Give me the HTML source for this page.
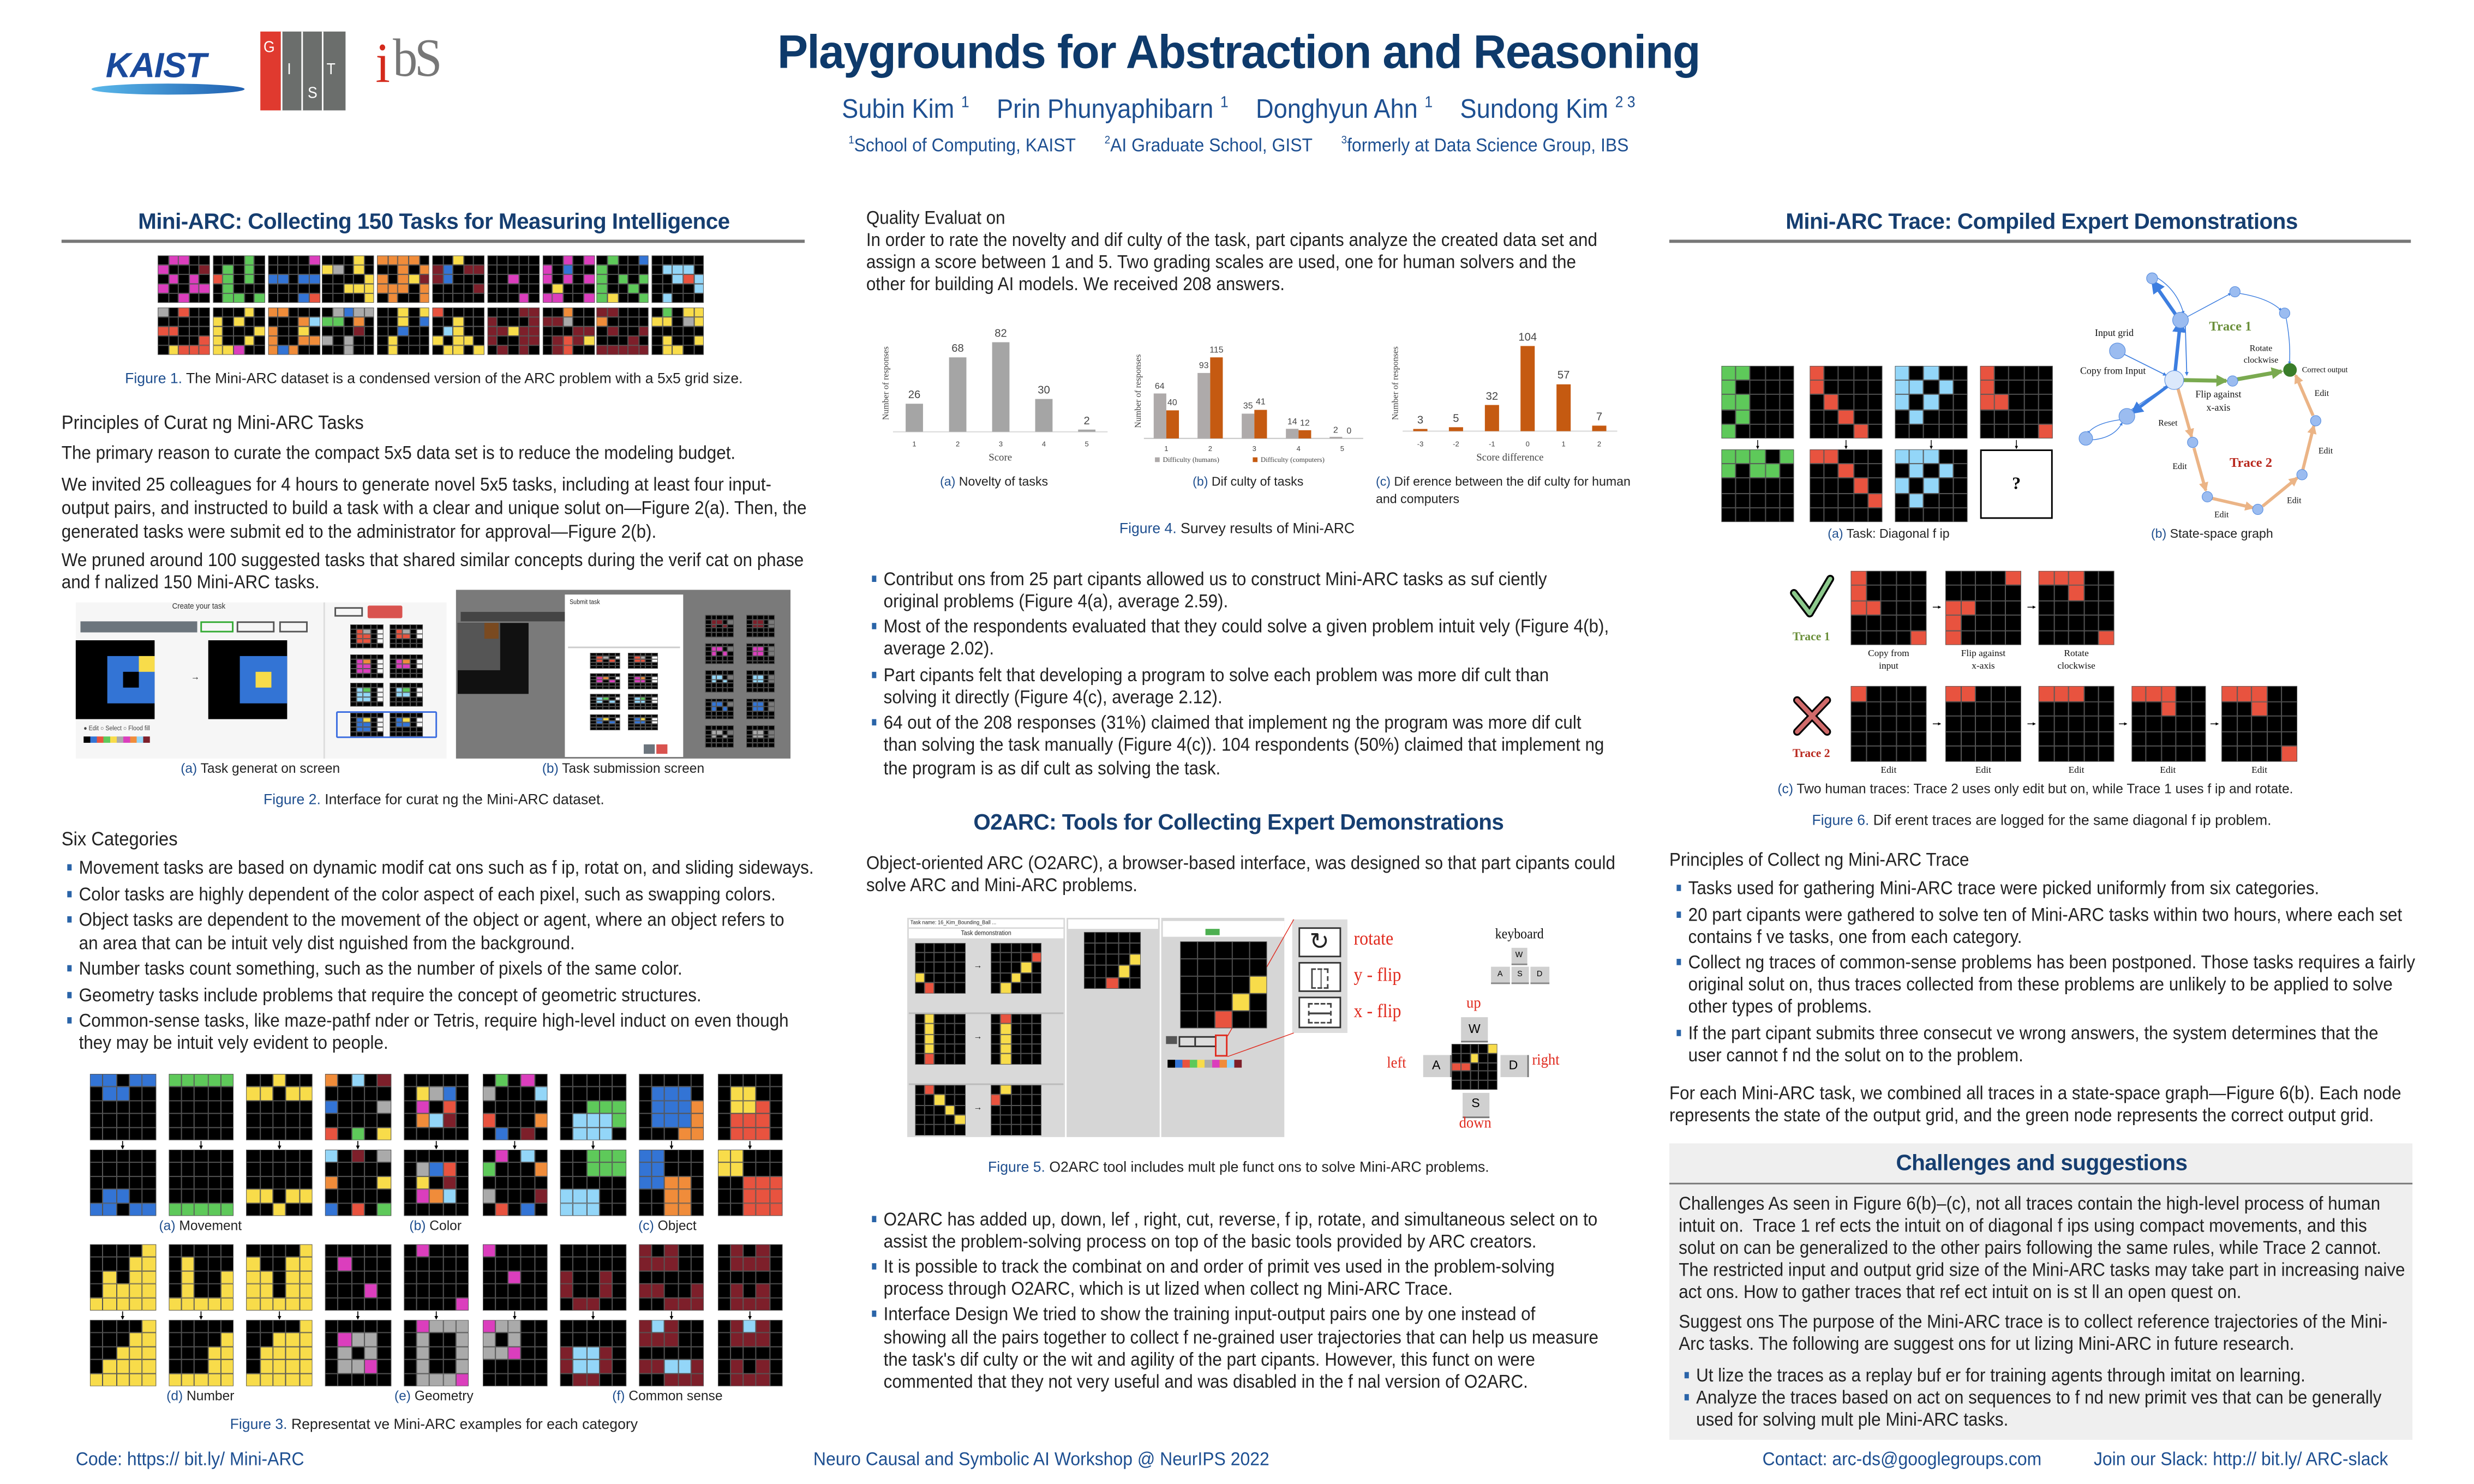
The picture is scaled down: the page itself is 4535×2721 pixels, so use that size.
<!DOCTYPE html>
<html><head><meta charset="utf-8">
<style>
html,body{margin:0;padding:0;width:4535px;height:2721px;overflow:hidden;background:#fff}
#p{position:absolute;left:0;top:0;width:1568px;height:941px;transform:scale(2.8922,2.8916);transform-origin:0 0;font-family:"Liberation Sans",sans-serif}
.t{position:absolute;white-space:nowrap;font-size:11.8px;line-height:14px;color:#222;transform:scaleX(.92);transform-origin:0 0}
.c{transform-origin:50% 0;transform:translateX(-50%) scaleX(.92)}
.h{position:absolute;white-space:nowrap;font-size:14px;font-weight:bold;color:#163e70;line-height:16px;letter-spacing:-0.2px}
.h.c{transform:translateX(-50%)}
.cap{position:absolute;white-space:nowrap;font-size:9.2px;line-height:11px;color:#222}
.cap.c{transform:translateX(-50%)}
.cap b,.fb{color:#1f4f8f;font-weight:normal}
.b::before{content:"";position:absolute;left:-8px;top:5px;width:3px;height:4px;background:#2a64a8}
.line{position:absolute;height:1.6px;background:#777}
.g{position:absolute;display:grid;grid-template-columns:repeat(5,1fr);grid-template-rows:repeat(5,1fr)}
.g i{box-shadow:inset 0 0 0 0.35px #555}
.box{position:absolute}
</style></head><body><div id="p">

<!-- logos -->
<div style="position:absolute;left:67px;top:29px;font:bold italic 22px 'Liberation Sans',sans-serif;color:#1a4a9c;letter-spacing:-0.5px">KAIST</div>
<div style="position:absolute;left:58px;top:53px;width:97px;height:7px;border-radius:50%;background:linear-gradient(90deg,#5ab8ea,#1f5fb0)"></div>
<div class="box" style="left:165px;top:20px;width:13px;height:50px;background:#e03a2f"></div>
<div class="box" style="left:178px;top:20px;width:13px;height:50px;background:#6b6e6c;border-left:0.5px solid #fff"></div>
<div class="box" style="left:191px;top:20px;width:13px;height:50px;background:#6b6e6c;border-left:0.5px solid #fff"></div>
<div class="box" style="left:204px;top:20px;width:14px;height:50px;background:#6b6e6c;border-left:0.5px solid #fff"></div>
<div class="t" style="left:167px;top:24px;color:#fff;font-size:10px">G</div>
<div class="t" style="left:182px;top:38px;color:#fff;font-size:10px">I</div>
<div class="t" style="left:195px;top:53px;color:#fff;font-size:10px">S</div>
<div class="t" style="left:207px;top:38px;color:#fff;font-size:10px">T</div>
<div class="t" style="left:238px;top:20px;font:36px 'Liberation Serif',serif;color:#d42a1c;line-height:40px">i</div>
<div class="t" style="left:249px;top:18px;font:34px 'Liberation Serif',serif;color:#777;line-height:40px;letter-spacing:-2px">bS</div>

<!-- title -->
<div class="t c" style="left:785px;top:16px;font-size:30px;line-height:36px;font-weight:bold;color:#0e3a6b;letter-spacing:-0.6px;transform:translateX(-50%) scaleX(.97)">Playgrounds for Abstraction and Reasoning</div>
<div class="t c" style="left:785px;top:56px;font-size:17px;line-height:20px;color:#1d4f91">Subin Kim <sup style="font-size:10px">1</sup>&nbsp;&nbsp;&nbsp; Prin Phunyaphibarn <sup style="font-size:10px">1</sup>&nbsp;&nbsp;&nbsp; Donghyun Ahn <sup style="font-size:10px">1</sup>&nbsp;&nbsp;&nbsp; Sundong Kim <sup style="font-size:10px">2 3</sup></div>
<div class="t c" style="left:785px;top:83px;font-size:12px;color:#1d4f91"><sup style="font-size:7px">1</sup>School of Computing, KAIST &nbsp;&nbsp;&nbsp;&nbsp; <sup style="font-size:7px">2</sup>AI Graduate School, GIST &nbsp;&nbsp;&nbsp;&nbsp; <sup style="font-size:7px">3</sup>formerly at Data Science Group, IBS</div>

<!-- column 1 -->
<div class="h c" style="left:275px;top:132px">Mini-ARC: Collecting 150 Tasks for Measuring Intelligence</div>
<div class="line" style="left:39px;top:152px;width:471px"></div>
<div class="cap c" style="left:275px;top:235px"><b>Figure 1.</b> The Mini-ARC dataset is a condensed version of the ARC problem with a 5x5 grid size.</div>
<div class="t" style="left:39px;top:261px;font-size:12.3px">Principles of Curat ng Mini-ARC Tasks</div>
<div class="t" style="left:39px;top:280px">The primary reason to curate the compact 5x5 data set is to reduce the modeling budget.</div>
<div class="t" style="left:39px;top:300px">We invited 25 colleagues for 4 hours to generate novel 5x5 tasks, including at least four input-</div>
<div class="t" style="left:39px;top:315px">output pairs, and instructed to build a task with a clear and unique solut on—Figure 2(a). Then, the</div>
<div class="t" style="left:39px;top:330px">generated tasks were submit ed to the administrator for approval—Figure 2(b).</div>
<div class="t" style="left:39px;top:348px">We pruned around 100 suggested tasks that shared similar concepts during the verif cat on phase</div>
<div class="t" style="left:39px;top:362px">and f nalized 150 Mini-ARC tasks.</div>

<!-- figure 2 -->
<div class="box" style="left:48px;top:382px;width:235px;height:99px;background:#f6f6f6"></div>
<div class="box" style="left:205px;top:382px;width:0.5px;height:99px;background:#ddd"></div>
<div class="t c" style="left:126px;top:381px;font-size:5px;line-height:8px;color:#333">Create your task</div>
<div class="box" style="left:51px;top:394px;width:74px;height:7px;background:#6c757d"></div>
<div class="box" style="left:127px;top:394px;width:21px;height:7px;border:0.4px solid #3a3;box-sizing:border-box"></div>
<div class="box" style="left:150px;top:394px;width:24px;height:7px;border:0.4px solid #555;box-sizing:border-box"></div>
<div class="box" style="left:177px;top:394px;width:18px;height:7px;border:0.4px solid #555;box-sizing:border-box"></div>
<div class="box" style="left:48px;top:406px;width:50px;height:50px;background:#000"></div>
<div class="box" style="left:68px;top:416px;width:30px;height:30px;background:#3374d5"></div>
<div class="box" style="left:88px;top:416px;width:10px;height:10px;background:#f8dc4a"></div>
<div class="box" style="left:78px;top:426px;width:10px;height:10px;background:#000"></div>
<div class="t" style="left:121px;top:423px;font-size:6px">→</div>
<div class="box" style="left:132px;top:406px;width:50px;height:50px;background:#000"></div>
<div class="box" style="left:152px;top:416px;width:30px;height:30px;background:#3374d5"></div>
<div class="box" style="left:162px;top:426px;width:10px;height:10px;background:#f8dc4a"></div>
<div class="t" style="left:53px;top:459px;font-size:4px;line-height:6px;color:#444">● Edit ○ Select ○ Flood fill</div>
<div class="box" style="left:53px;top:467px;width:42px;height:4px;background:linear-gradient(90deg,#000 0 10%,#3374d5 10% 20%,#e8533f 20% 30%,#5ec95a 30% 40%,#f8dc4a 40% 50%,#aaa 50% 60%,#db3ebd 60% 70%,#f08c3a 70% 80%,#93d6f8 80% 90%,#7d1f2a 90%)"></div>
<div class="box" style="left:212px;top:385px;width:18px;height:6px;border:0.4px solid #555;box-sizing:border-box"></div>
<div class="box" style="left:233px;top:384px;width:22px;height:8px;background:#d9534f;border-radius:1px"></div>
<div class="box" style="left:213px;top:451px;width:64px;height:17px;border:0.8px solid #3b6de0;box-sizing:border-box;border-radius:1px"></div>
<div class="box" style="left:289px;top:374px;width:212px;height:107px;background:#7a7a7a"></div>
<div class="box" style="left:290px;top:395px;width:45px;height:45px;background:#111"></div>
<div class="box" style="left:290px;top:395px;width:27px;height:30px;background:#555"></div>
<div class="box" style="left:307px;top:395px;width:9px;height:10px;background:#7a4a20"></div>
<div class="box" style="left:292px;top:388px;width:66px;height:6px;background:#444"></div>
<div class="box" style="left:358px;top:377px;width:75px;height:103px;background:#fff"></div>
<div class="box" style="left:360px;top:410px;width:71px;height:0.5px;background:#ccc"></div>
<div class="t" style="left:361px;top:379px;font-size:4px;line-height:6px">Submit task</div>
<div class="box" style="left:416px;top:472px;width:7px;height:6px;background:#d9534f"></div>
<div class="box" style="left:408px;top:472px;width:7px;height:6px;background:#6c757d"></div>
<div class="cap c" style="left:165px;top:482px;font-size:8.5px"><b>(a)</b> Task generat on screen</div>
<div class="cap c" style="left:395px;top:482px;font-size:8.5px"><b>(b)</b> Task submission screen</div>
<div class="cap c" style="left:275px;top:502px"><b>Figure 2.</b> Interface for curat ng the Mini-ARC dataset.</div>

<div class="t" style="left:39px;top:525px;font-size:12.3px">Six Categories</div>
<div class="t b" style="left:50px;top:543px">Movement tasks are based on dynamic modif cat ons such as f ip, rotat on, and sliding sideways.</div>
<div class="t b" style="left:50px;top:560px">Color tasks are highly dependent of the color aspect of each pixel, such as swapping colors.</div>
<div class="t b" style="left:50px;top:576px">Object tasks are dependent to the movement of the object or agent, where an object refers to</div>
<div class="t" style="left:50px;top:591px">an area that can be intuit vely dist nguished from the background.</div>
<div class="t b" style="left:50px;top:607px">Number tasks count something, such as the number of pixels of the same color.</div>
<div class="t b" style="left:50px;top:624px">Geometry tasks include problems that require the concept of geometric structures.</div>
<div class="t b" style="left:50px;top:640px">Common-sense tasks, like maze-pathf nder or Tetris, require high-level induct on even though</div>
<div class="t" style="left:50px;top:654px">they may be intuit vely evident to people.</div>

<div class="cap c" style="left:127px;top:772px;font-size:8.5px"><b>(a)</b> Movement</div>
<div class="cap c" style="left:276px;top:772px;font-size:8.5px"><b>(b)</b> Color</div>
<div class="cap c" style="left:423px;top:772px;font-size:8.5px"><b>(c)</b> Object</div>
<div class="cap c" style="left:127px;top:880px;font-size:8.5px"><b>(d)</b> Number</div>
<div class="cap c" style="left:275px;top:880px;font-size:8.5px"><b>(e)</b> Geometry</div>
<div class="cap c" style="left:423px;top:880px;font-size:8.5px"><b>(f)</b> Common sense</div>
<div class="cap c" style="left:275px;top:898px"><b>Figure 3.</b> Representat ve Mini-ARC examples for each category</div>

<!-- column 2 -->
<div class="t" style="left:549px;top:131px">Quality Evaluat on</div>
<div class="t" style="left:549px;top:145px">In order to rate the novelty and dif culty of the task, part cipants analyze the created data set and</div>
<div class="t" style="left:549px;top:159px">assign a score between 1 and 5. Two grading scales are used, one for human solvers and the</div>
<div class="t" style="left:549px;top:173px">other for building AI models. We received 208 answers.</div>
<div class="cap c" style="left:630px;top:300px;font-size:8px"><b>(a)</b> Novelty of tasks</div>
<div class="cap c" style="left:791px;top:300px;font-size:8px"><b>(b)</b> Dif culty of tasks</div>
<div class="cap" style="left:872px;top:300px;font-size:8px"><b>(c)</b> Dif erence between the dif culty for human</div>
<div class="cap" style="left:872px;top:311px;font-size:8px">and computers</div>
<div class="cap c" style="left:784px;top:330px"><b>Figure 4.</b> Survey results of Mini-ARC</div>

<div class="t b" style="left:560px;top:360px">Contribut ons from 25 part cipants allowed us to construct Mini-ARC tasks as suf ciently</div>
<div class="t" style="left:560px;top:374px">original problems (Figure 4(a), average 2.59).</div>
<div class="t b" style="left:560px;top:390px">Most of the respondents evaluated that they could solve a given problem intuit vely (Figure 4(b),</div>
<div class="t" style="left:560px;top:404px">average 2.02).</div>
<div class="t b" style="left:560px;top:421px">Part cipants felt that developing a program to solve each problem was more dif cult than</div>
<div class="t" style="left:560px;top:435px">solving it directly (Figure 4(c), average 2.12).</div>
<div class="t b" style="left:560px;top:451px">64 out of the 208 responses (31%) claimed that implement ng the program was more dif cult</div>
<div class="t" style="left:560px;top:465px">than solving the task manually (Figure 4(c)). 104 respondents (50%) claimed that implement ng</div>
<div class="t" style="left:560px;top:480px">the program is as dif cult as solving the task.</div>

<div class="h c" style="left:785px;top:513px">O2ARC: Tools for Collecting Expert Demonstrations</div>
<div class="t" style="left:549px;top:540px">Object-oriented ARC (O2ARC), a browser-based interface, was designed so that part cipants could</div>
<div class="t" style="left:549px;top:554px">solve ARC and Mini-ARC problems.</div>

<!-- figure 5 panels -->
<div class="box" style="left:575px;top:582px;width:100px;height:139px;background:#d9d9d9"></div>
<div class="box" style="left:576px;top:583px;width:98px;height:5px;background:#fff"></div>
<div class="box" style="left:576px;top:589px;width:98px;height:6px;background:#fff"></div>
<div class="t c" style="left:625px;top:589px;font-size:4px;line-height:6px">Task demonstration</div>
<div class="t" style="left:577px;top:583px;font-size:3.5px;line-height:5px">Task name: 16_Kim_Bounding_Ball ...</div>
<div class="box" style="left:576px;top:642px;width:98px;height:0.5px;background:#bbb"></div>
<div class="box" style="left:576px;top:686.5px;width:98px;height:0.5px;background:#bbb"></div>
<div class="t" style="left:617px;top:606px;font-size:6px">→</div>
<div class="t" style="left:617px;top:651px;font-size:6px">→</div>
<div class="t" style="left:617px;top:696px;font-size:6px">→</div>
<div class="box" style="left:676px;top:582px;width:59px;height:139px;background:#d6d6d6"></div>
<div class="box" style="left:677px;top:583px;width:57px;height:6px;background:#fff"></div>
<div class="box" style="left:736px;top:582px;width:78px;height:139px;background:#d6d6d6"></div>
<div class="box" style="left:737px;top:584px;width:77px;height:10px;background:#fff"></div>
<div class="box" style="left:764px;top:589px;width:9px;height:3.5px;background:#4caf50"></div>
<div class="box" style="left:739px;top:657px;width:7px;height:5px;background:#555"></div>
<div class="box" style="left:747px;top:657px;width:9px;height:5px;background:#ddd;border:0.3px solid #333"></div>
<div class="box" style="left:757px;top:657px;width:12px;height:5px;background:#ddd;border:0.3px solid #333"></div>
<div class="box" style="left:770px;top:656.4px;width:8px;height:14px;border:0.7px solid #e02a1e;box-sizing:border-box"></div>
<div class="box" style="left:740px;top:672px;width:47px;height:5px;background:linear-gradient(90deg,#000 0 10%,#3374d5 10% 20%,#e8533f 20% 30%,#5ec95a 30% 40%,#f8dc4a 40% 50%,#aaa 50% 60%,#db3ebd 60% 70%,#f08c3a 70% 80%,#93d6f8 80% 90%,#7d1f2a 90%)"></div>
<div class="box" style="left:819.4px;top:583px;width:34.5px;height:72px;background:#ddd"></div>
<div class="box" style="left:823px;top:587.6px;width:26.5px;height:19.5px;background:#fff;border:1.2px solid #333;box-sizing:border-box;text-align:center;font:15px 'DejaVu Sans',sans-serif;line-height:17px;color:#222">↻</div>
<div class="box" style="left:823px;top:609.7px;width:26.5px;height:19.5px;background:#fff;border:1.2px solid #333;box-sizing:border-box"><div style="margin:3px 7px;height:11px;border:0.6px dashed #444;border-left:1.2px solid #444;box-shadow:inset 5px 0 0 #fff,inset 5.6px 0 0 #444"></div></div>
<div class="box" style="left:823px;top:632px;width:26.5px;height:19.5px;background:#fff;border:1.2px solid #333;box-sizing:border-box"><div style="margin:3px 5px;height:11px;border:0.6px dashed #444;box-shadow:inset 0 5px 0 #fff,inset 0 6.2px 0 #444"></div></div>
<div class="t" style="left:858px;top:588px;font:12px 'Liberation Serif',serif;color:#e02a1e">rotate</div>
<div class="t" style="left:858px;top:611px;font:12px 'Liberation Serif',serif;color:#e02a1e">y - flip</div>
<div class="t" style="left:858px;top:634px;font:12px 'Liberation Serif',serif;color:#e02a1e">x - flip</div>
<div class="t c" style="left:963px;top:587px;font:9px 'Liberation Serif',serif;color:#111">keyboard</div>
<div class="box" style="left:957.5px;top:601px;width:10.5px;height:10px;background:#d0d0d0;border-bottom:0.7px solid #888;font:5px sans-serif;text-align:center;line-height:10px">W</div>
<div class="box" style="left:945px;top:612.5px;width:11.5px;height:10px;background:#d0d0d0;border-bottom:0.7px solid #888;font:5px sans-serif;text-align:center;line-height:10px">A</div>
<div class="box" style="left:957.5px;top:612.5px;width:11.5px;height:10px;background:#d0d0d0;border-bottom:0.7px solid #888;font:5px sans-serif;text-align:center;line-height:10px">S</div>
<div class="box" style="left:970px;top:612.5px;width:11.5px;height:10px;background:#d0d0d0;border-bottom:0.7px solid #888;font:5px sans-serif;text-align:center;line-height:10px">D</div>
<div class="t c" style="left:934px;top:631px;font:10px 'Liberation Serif',serif;color:#e02a1e">up</div>
<div class="box" style="left:926.4px;top:645px;width:16.3px;height:15px;background:#d0d0d0;border-bottom:0.8px solid #777;font:8px sans-serif;text-align:center;line-height:15px">W</div>
<div class="box" style="left:902px;top:668.8px;width:16.6px;height:14.5px;background:#d0d0d0;border-right:0.5px solid #777;font:8px sans-serif;text-align:center;line-height:14.5px">A</div>
<div class="box" style="left:950.7px;top:668.8px;width:16.9px;height:14.5px;background:#d0d0d0;border-right:0.5px solid #777;font:8px sans-serif;text-align:center;line-height:14.5px">D</div>
<div class="box" style="left:927px;top:693px;width:16.5px;height:14.7px;background:#d0d0d0;border-bottom:0.8px solid #777;font:8px sans-serif;text-align:center;line-height:14.7px">S</div>
<div class="t" style="left:879px;top:669px;font:10px 'Liberation Serif',serif;color:#e02a1e">left</div>
<div class="t" style="left:971px;top:667px;font:10px 'Liberation Serif',serif;color:#e02a1e">right</div>
<div class="t c" style="left:935px;top:707px;font:10px 'Liberation Serif',serif;color:#e02a1e">down</div>
<div class="cap c" style="left:785px;top:735px"><b>Figure 5.</b> O2ARC tool includes mult ple funct ons to solve Mini-ARC problems.</div>

<div class="t b" style="left:560px;top:766px">O2ARC has added up, down, lef , right, cut, reverse, f ip, rotate, and simultaneous select on to</div>
<div class="t" style="left:560px;top:780px">assist the problem-solving process on top of the basic tools provided by ARC creators.</div>
<div class="t b" style="left:560px;top:796px">It is possible to track the combinat on and order of primit ves used in the problem-solving</div>
<div class="t" style="left:560px;top:810px">process through O2ARC, which is ut lized when collect ng Mini-ARC Trace.</div>
<div class="t b" style="left:560px;top:826px">Interface Design We tried to show the training input-output pairs one by one instead of</div>
<div class="t" style="left:560px;top:841px">showing all the pairs together to collect f ne-grained user trajectories that can help us measure</div>
<div class="t" style="left:560px;top:855px">the task's dif culty or the wit and agility of the part cipants. However, this funct on were</div>
<div class="t" style="left:560px;top:869px">commented that they not very useful and was disabled in the f nal version of O2ARC.</div>

<!-- column 3 -->
<div class="h c" style="left:1294px;top:132px">Mini-ARC Trace: Compiled Expert Demonstrations</div>
<div class="line" style="left:1058px;top:152px;width:470px"></div>
<div class="box" style="left:1255px;top:285px;width:46px;height:44px;border:1.3px solid #000;box-sizing:border-box;text-align:center;font:bold 11px 'Liberation Serif',serif;line-height:42px">?</div>
<div class="cap c" style="left:1197px;top:333px;font-size:8px"><b>(a)</b> Task: Diagonal f ip</div>
<div class="cap c" style="left:1402px;top:333px;font-size:8px"><b>(b)</b> State-space graph</div>
<div class="cap c" style="left:1290px;top:495px;font-size:8.5px"><b>(c)</b> Two human traces: Trace 2 uses only edit but on, while Trace 1 uses f ip and rotate.</div>
<div class="cap c" style="left:1294px;top:515px"><b>Figure 6.</b> Dif erent traces are logged for the same diagonal f ip problem.</div>

<div class="t" style="left:1058px;top:538px">Principles of Collect ng Mini-ARC Trace</div>
<div class="t b" style="left:1070px;top:556px">Tasks used for gathering Mini-ARC trace were picked uniformly from six categories.</div>
<div class="t b" style="left:1070px;top:573px">20 part cipants were gathered to solve ten of Mini-ARC tasks within two hours, where each set</div>
<div class="t" style="left:1070px;top:587px">contains f ve tasks, one from each category.</div>
<div class="t b" style="left:1070px;top:603px">Collect ng traces of common-sense problems has been postponed. Those tasks requires a fairly</div>
<div class="t" style="left:1070px;top:617px">original solut on, thus traces collected from these problems are unlikely to be applied to solve</div>
<div class="t" style="left:1070px;top:631px">other types of problems.</div>
<div class="t b" style="left:1070px;top:648px">If the part cipant submits three consecut ve wrong answers, the system determines that the</div>
<div class="t" style="left:1070px;top:662px">user cannot f nd the solut on to the problem.</div>
<div class="t" style="left:1058px;top:686px">For each Mini-ARC task, we combined all traces in a state-space graph—Figure 6(b). Each node</div>
<div class="t" style="left:1058px;top:700px">represents the state of the output grid, and the green node represents the correct output grid.</div>

<div class="box" style="left:1058px;top:725px;width:471px;height:188px;background:#efefef"></div>
<div class="box" style="left:1058px;top:749.5px;width:471px;height:0.8px;background:#777"></div>
<div class="h c" style="left:1294px;top:729px">Challenges and suggestions</div>
<div class="t" style="left:1064px;top:756px">Challenges As seen in Figure 6(b)–(c), not all traces contain the high-level process of human</div>
<div class="t" style="left:1064px;top:770px">intuit on.&nbsp; Trace 1 ref ects the intuit on of diagonal f ips using compact movements, and this</div>
<div class="t" style="left:1064px;top:784px">solut on can be generalized to the other pairs following the same rules, while Trace 2 cannot.</div>
<div class="t" style="left:1064px;top:798px">The restricted input and output grid size of the Mini-ARC tasks may take part in increasing naive</div>
<div class="t" style="left:1064px;top:812px">act ons. How to gather traces that ref ect intuit on is st ll an open quest on.</div>
<div class="t" style="left:1064px;top:831px">Suggest ons The purpose of the Mini-ARC trace is to collect reference trajectories of the Mini-</div>
<div class="t" style="left:1064px;top:845px">Arc tasks. The following are suggest ons for ut lizing Mini-ARC in future research.</div>
<div class="t b" style="left:1075px;top:865px">Ut lize the traces as a replay buf er for training agents through imitat on learning.</div>
<div class="t b" style="left:1075px;top:879px">Analyze the traces based on act on sequences to f nd new primit ves that can be generally</div>
<div class="t" style="left:1075px;top:893px">used for solving mult ple Mini-ARC tasks.</div>

<!-- footer -->
<div class="t" style="left:48px;top:918px;font-size:12px;color:#1d4f91">Code: https:// bit.ly/ Mini-ARC</div>
<div class="t c" style="left:660px;top:918px;font-size:12px;color:#1d4f91">Neuro Causal and Symbolic AI Workshop @ NeurIPS 2022</div>
<div class="t" style="left:1117px;top:918px;font-size:12px;color:#1d4f91">Contact: arc-ds@googlegroups.com</div>
<div class="t" style="left:1327px;top:918px;font-size:12px;color:#1d4f91">Join our Slack: http:// bit.ly/ ARC-slack</div>

<svg style="position:absolute;left:0;top:0" width="1568" height="941" viewBox="0 0 1568 941">
<defs>
<marker id="ak" markerWidth="4" markerHeight="4" refX="3.5" refY="2" orient="auto"><path d="M0,0L4,2L0,4z" fill="#000"/></marker>
<marker id="ab" markerWidth="4" markerHeight="4" refX="3.5" refY="2" orient="auto"><path d="M0,0L4,2L0,4z" fill="#3d7ee0"/></marker>
<marker id="ag" markerWidth="3" markerHeight="3" refX="2.5" refY="1.5" orient="auto"><path d="M0,0L3,1.5L0,3z" fill="#7aaa50"/></marker>
<marker id="ao" markerWidth="3" markerHeight="3" refX="2.5" refY="1.5" orient="auto"><path d="M0,0L3,1.5L0,3z" fill="#ebb486"/></marker>
</defs>
<g font-family="Liberation Sans,sans-serif" fill="#444" font-size="6" text-anchor="middle">
<line x1="566" y1="273.8" x2="702" y2="273.8" stroke="#ddd" stroke-width="0.8"/>
<g fill="#a5a5a5"><rect x="574" y="256" width="11" height="17.8"/><rect x="601.5" y="226.6" width="11" height="47.2"/><rect x="628.8" y="217" width="11" height="56.8"/><rect x="656.1" y="253" width="11" height="20.8"/><rect x="683.3" y="272.4" width="11" height="1.4"/></g>
<text x="579.5" y="252.5" font-size="7">26</text><text x="607" y="223" font-size="7">68</text><text x="634.3" y="213.5" font-size="7">82</text><text x="661.6" y="249.5" font-size="7">30</text><text x="688.8" y="269" font-size="7">2</text>
<g font-size="4.5"><text x="579.5" y="283">1</text><text x="607" y="283">2</text><text x="634.3" y="283">3</text><text x="661.6" y="283">4</text><text x="688.8" y="283">5</text></g>
<text x="634" y="292" font-size="6.5" font-family="Liberation Serif,serif">Score</text>
<text transform="translate(563,243) rotate(-90)" font-size="5.5" font-family="Liberation Serif,serif">Number of responses</text>
<line x1="725" y1="278" x2="864" y2="278" stroke="#ccc" stroke-width="0.8"/>
<g fill="#aeaaaa"><rect x="731.2" y="249.5" width="8" height="28.5"/><rect x="759" y="236.5" width="8" height="41.5"/><rect x="787" y="262.3" width="8" height="15.7"/><rect x="815" y="271.9" width="8" height="6.1"/><rect x="842.7" y="277" width="8" height="1"/></g>
<g fill="#c55a11"><rect x="739.2" y="260.2" width="8" height="17.8"/><rect x="767" y="226.6" width="8" height="51.4"/><rect x="795" y="259.9" width="8" height="18.1"/><rect x="823" y="272.8" width="8" height="5.2"/></g>
<g font-size="5.5"><text x="735" y="246.5">64</text><text x="743" y="257">40</text><text x="763" y="233.5">93</text><text x="771" y="223.5">115</text><text x="791" y="259">35</text><text x="799" y="256.5">41</text><text x="819" y="269">14</text><text x="827" y="270">12</text><text x="846.5" y="274.5">2</text><text x="855" y="275">0</text></g>
<g font-size="4.5"><text x="739.2" y="286">1</text><text x="767" y="286">2</text><text x="795" y="286">3</text><text x="823" y="286">4</text><text x="850.7" y="286">5</text></g>
<rect x="732" y="290" width="3" height="3" fill="#aeaaaa"/><text x="737" y="293" font-size="4.5" text-anchor="start" font-family="Liberation Serif,serif">Difficulty (humans)</text>
<rect x="794" y="290" width="3" height="3" fill="#c55a11"/><text x="799" y="293" font-size="4.5" text-anchor="start" font-family="Liberation Serif,serif">Difficulty (computers)</text>
<text transform="translate(723,248) rotate(-90)" font-size="5.5" font-family="Liberation Serif,serif">Number of responses</text>
<line x1="889" y1="273.4" x2="1025" y2="273.4" stroke="#ddd" stroke-width="0.8"/>
<g fill="#c55a11"><rect x="895.7" y="272" width="9" height="1.4"/><rect x="918.3" y="270.9" width="9" height="2.5"/><rect x="941.1" y="256.8" width="9" height="16.6"/><rect x="963.7" y="219.4" width="9" height="54"/><rect x="986.5" y="243.7" width="9" height="29.7"/><rect x="1009.1" y="269.9" width="9" height="3.5"/></g>
<g font-size="7"><text x="900.2" y="268.5">3</text><text x="922.8" y="267.5">5</text><text x="945.6" y="253.5">32</text><text x="968.2" y="216">104</text><text x="991" y="240">57</text><text x="1013.6" y="266.5">7</text></g>
<g font-size="4.5"><text x="900.2" y="283">-3</text><text x="922.8" y="283">-2</text><text x="945.6" y="283">-1</text><text x="968.2" y="283">0</text><text x="991" y="283">1</text><text x="1013.6" y="283">2</text></g>
<text x="957" y="292" font-size="6.5" font-family="Liberation Serif,serif">Score difference</text>
<text transform="translate(886,243) rotate(-90)" font-size="5.5" font-family="Liberation Serif,serif">Number of responses</text>
</g>
<line x1="778" y1="657" x2="820" y2="583" stroke="#e02a1e" stroke-width="0.5"/>
<line x1="778" y1="670" x2="820" y2="655" stroke="#e02a1e" stroke-width="0.5"/>
<g fill="none">
<path d="M1378,241 L1382,203" stroke="#3d7ee0" stroke-width="2.2" marker-end="url(#ab)"/>
<path d="M1385,205 L1386,238" stroke="#3d7ee0" stroke-width="0.6" marker-end="url(#ab)"/>
<path d="M1380,201 L1364,178" stroke="#3d7ee0" stroke-width="2.2" marker-end="url(#ab)"/>
<path d="M1367,176 Q1380,184 1384,199" stroke="#3d7ee0" stroke-width="0.5" marker-end="url(#ab)"/>
<path d="M1386,201 L1414,186" stroke="#3d7ee0" stroke-width="0.5" marker-end="url(#ab)"/>
<path d="M1419,186 Q1438,189 1446,197" stroke="#3d7ee0" stroke-width="0.5" marker-end="url(#ab)"/>
<path d="M1449,202 Q1452,218 1451,231" stroke="#3d7ee0" stroke-width="0.5" marker-end="url(#ab)"/>
<path d="M1345,224 L1373,238" stroke="#3d7ee0" stroke-width="0.6" marker-end="url(#ab)"/>
<path d="M1375,244 L1351,262" stroke="#3d7ee0" stroke-width="2" marker-end="url(#ab)"/>
<path d="M1349,261 L1373,245" stroke="#3d7ee0" stroke-width="0.5" marker-end="url(#ab)"/>
<path d="M1345,266 Q1328,268 1323,275" stroke="#3d7ee0" stroke-width="0.5" marker-end="url(#ab)"/>
<path d="M1325,279 Q1340,278 1345,268" stroke="#3d7ee0" stroke-width="0.5" marker-end="url(#ab)"/>
<path d="M1383,241 L1411,241.5" stroke="#7aaa50" stroke-width="2.5" marker-end="url(#ag)"/>
<path d="M1418,240.5 L1446,235.5" stroke="#7aaa50" stroke-width="2.5" marker-end="url(#ag)"/>
<path d="M1380,245 L1389,277" stroke="#ebb486" stroke-width="2" marker-end="url(#ao)"/>
<path d="M1390.5,284 L1398,311" stroke="#ebb486" stroke-width="2" marker-end="url(#ao)"/>
<path d="M1402,316 L1428,322" stroke="#ebb486" stroke-width="2" marker-end="url(#ao)"/>
<path d="M1434,321 L1456,303" stroke="#ebb486" stroke-width="2" marker-end="url(#ao)"/>
<path d="M1459.5,298 L1466.5,270" stroke="#ebb486" stroke-width="2" marker-end="url(#ao)"/>
<path d="M1466,263.5 L1455,238" stroke="#ebb486" stroke-width="2" marker-end="url(#ao)"/>
</g>
<g fill="#9bbcf0" stroke="#5a8fe0" stroke-width="0.4">
<circle cx="1364" cy="176.5" r="3.5"/><circle cx="1382" cy="203" r="5"/><circle cx="1416.5" cy="185" r="3.3"/><circle cx="1448" cy="198.6" r="3.3"/>
<circle cx="1342" cy="222.5" r="5"/><circle cx="1378" cy="241" r="6" fill="#dbe8fb"/><circle cx="1415" cy="241.6" r="3.3"/>
<circle cx="1348" cy="264" r="5"/><circle cx="1322" cy="278" r="4.3"/><circle cx="1389.7" cy="280.5" r="3.3"/><circle cx="1399" cy="315" r="3.3"/><circle cx="1431" cy="323" r="3.3"/><circle cx="1459" cy="301" r="3.3"/><circle cx="1467.7" cy="266.8" r="3.3"/>
</g>
<circle cx="1451.4" cy="234.6" r="4.3" fill="#3a7d2a"/>
<g font-family="Liberation Serif,serif" font-size="6.2" fill="#111">
<text x="1340" y="213" text-anchor="middle">Input grid</text>
<text x="1360" y="237" text-anchor="end">Copy from Input</text>
<text x="1433" y="222.5" text-anchor="middle" font-size="5.5">Rotate</text><text x="1433" y="230" text-anchor="middle" font-size="5.5">clockwise</text>
<text x="1459" y="236" font-size="5">Correct output</text>
<text x="1406" y="252" text-anchor="middle">Flip against</text><text x="1406" y="260.5" text-anchor="middle">x-axis</text>
<text x="1374" y="270" text-anchor="middle" font-size="5.5">Reset</text>
<text x="1381.5" y="297.5" text-anchor="middle" font-size="5.5">Edit</text><text x="1408" y="328" text-anchor="middle" font-size="5.5">Edit</text><text x="1454" y="319" text-anchor="middle" font-size="5.5">Edit</text><text x="1474" y="287.5" text-anchor="middle" font-size="5.5">Edit</text><text x="1471.5" y="251" text-anchor="middle" font-size="5.5">Edit</text>
<text x="1413.6" y="209.5" text-anchor="middle" font-size="8.5" font-weight="bold" fill="#6a8f3a">Trace 1</text>
<text x="1426.6" y="296" text-anchor="middle" font-size="8.5" font-weight="bold" fill="#b8281e">Trace 2</text>
<text x="1148" y="406" text-anchor="middle" font-size="7.5" font-weight="bold" fill="#6a8f3a">Trace 1</text>
<text x="1148" y="480" text-anchor="middle" font-size="7.5" font-weight="bold" fill="#b8281e">Trace 2</text>
<g font-size="6" text-anchor="middle">
<text x="1197" y="416">Copy from</text><text x="1197" y="424">input</text>
<text x="1257" y="416">Flip against</text><text x="1257" y="424">x-axis</text>
<text x="1316" y="416">Rotate</text><text x="1316" y="424">clockwise</text>
<text x="1197" y="490">Edit</text><text x="1257" y="490">Edit</text><text x="1316" y="490">Edit</text><text x="1374" y="490">Edit</text><text x="1432" y="490">Edit</text>
</g></g>
<path d="M1137,376 L1147,389 L1160,367" fill="none" stroke="#000" stroke-width="5" stroke-linecap="round" stroke-linejoin="round"/>
<path d="M1137,376 L1147,389 L1160,367" fill="none" stroke="#8cc98c" stroke-width="2.6" stroke-linecap="round" stroke-linejoin="round"/>
<path d="M1139,444 L1158,464 M1158,444 L1139,464" stroke="#000" stroke-width="5" stroke-linecap="round"/>
<path d="M1139,444 L1158,464 M1158,444 L1139,464" stroke="#d06a6a" stroke-width="2.8" stroke-linecap="round"/>
<g stroke="#000" stroke-width="0.5" marker-end="url(#ak)">
<line x1="1225" y1="385" x2="1230" y2="385"/><line x1="1285" y1="385" x2="1290" y2="385"/>
<line x1="1225" y1="459" x2="1230" y2="459"/><line x1="1285" y1="459" x2="1290" y2="459"/><line x1="1343" y1="459" x2="1348" y2="459"/><line x1="1401" y1="459" x2="1406" y2="459"/>
<line x1="1114" y1="279" x2="1114" y2="284.5"/><line x1="1170" y1="279" x2="1170" y2="284.5"/><line x1="1224" y1="279" x2="1224" y2="284.5"/><line x1="1278" y1="279" x2="1278" y2="284.5"/>
</g>
<g id="arr3" stroke="#000" stroke-width="0.6" marker-end="url(#ak)"></g>
</svg>
</div>
<script>
var C={k:'#000',b:'#3374d5',g:'#5ec95a',y:'#f8dc4a',r:'#e8533f',m:'#db3ebd',o:'#f08c3a',c:'#93d6f8',a:'#aaa',w:'#7d1f2a'};
var P=document.getElementById('p');
function G(x,y,w,h,s){var d=document.createElement('div');d.className='g';d.style.cssText='left:'+x+'px;top:'+y+'px;width:'+w+'px;height:'+h+'px';
var rows=s.split(';');while(rows.length<5)rows.push('k');var html='';
for(var i=0;i<5;i++){var r=rows[i];if(r.length==1)r=r+r+r+r+r;for(var j=0;j<5;j++)html+='<i style="background:'+C[r[j]]+'"></i>';}
d.innerHTML=html;P.appendChild(d);}
var seed=7;function rnd(){seed=(seed*9301+49297)%233280;return seed/233280;}
var cols='bgyrmacwoy';
for(var r=0;r<2;r++)for(var i=0;i<10;i++){var main=cols[Math.floor(rnd()*10)],s=[];
for(var a=0;a<5;a++){var row='';for(var b=0;b<5;b++){var q=rnd();row+=q<0.28?main:(q<0.36?cols[Math.floor(rnd()*10)]:'k');}s.push(row);}
G(100+i*34.8,162+r*33,33,30,s.join(';'));}
var f3=[
['bbkbb;kbbkk','k;k;k;kbbkk;bbkbb'],['ggggg','k;k;k;k;ggggg'],['kkykk;yykyy','k;k;k;yykyy;kkykk'],
['okckw;k;bkkka;k;rkgky','ckwka;k;okkky;k;bkrkg'],['k;kyabk;kmkrk;kocwk;k','k;kabrk;kykwk;kmock;k'],['kgkmk;akkkc;k;rkkko;kbkwk','kmkck;gkkko;k;akkkw;krkbk'],
['k;k;kkggg;kcccg;kccck','kkggg;kkggg;k;ccckk;ccckk'],['k;kbbbk;kbbbo;kbbbo;kkkoo','bbkkk;bbkkk;bbook;kkook;kkook'],['k;kyykk;kyyrk;krrrk;krrrk','yykkk;yykkk;kkrrr;kkrrr;kkrrr'],
['kkkky;kkkyy;kykyy;kyyyy;yyyyy','kkkky;kkkyy;kkyyy;kyyyy;yyyyy'],['k;kykkk;kykky;kykky;yyyyy','k;kkkky;kkkyy;kkkyy;yyyyy'],['kkkky;ykkyy;yykyy;yykyy;yyyyy','kkkky;kkyyy;kyyyy;kyyyy;yyyyy'],
['k;kmkkk;k;kkkmk;k','k;kmaak;kakak;kaamk;k'],['kmkkk;k;k;k;kkkkm','kmaaa;kakka;kakka;kakka;kaaam'],['mkkkk;k;kkmkk;k;k','maakk;akakk;aamkk;k;k'],
['k;k;wkkwk;wkkwk;kwwkk','k;k;wccwk;wccwk;kwwkk'],['wkwkk;wwwkk;k;wwkkw;kkwww','wcwkk;wwwkk;k;wwccw;kkwww'],['kwkwk;kwwwk;k;kwkwk;kwwwk','kwcwk;kwwwk;k;kwkwk;kwwwk']];
var svgA=document.getElementById('arr3');
for(var n=0;n<18;n++){var row=Math.floor(n/9),col=n%9,x=57+col*49.7,y0=row?789:681,y1=row?837:729;
G(x,y0,41.5,42,f3[n][0]);G(x,y1,41.5,42,f3[n][1]);
var l=document.createElementNS('http://www.w3.org/2000/svg','line');l.setAttribute('x1',x+20.7);l.setAttribute('x2',x+20.7);l.setAttribute('y1',y0+42.5);l.setAttribute('y2',y1-0.5);svgA.appendChild(l);}
G(1091,232,46,46,'ggkkk;gkkkk;ggkkk;kgkkk;gkkkk');G(1091,285,46,46,'gggkg;gkggk;k;k;k');
G(1147,232,46,46,'rkkkk;rkkkk;krkkk;kkrkk;kkkrk');G(1147,285,46,46,'rrkkk;kkrkk;kkkrk;kkkkr;k');
G(1201,232,46,46,'ckckk;cckck;ckckk;kckkk;k');G(1201,285,46,46,'ccckk;kckck;ckckk;kckkk;k');
G(1255,232,46,46,'rkkkk;rkkkk;rrkkk;k;kkkkr');
G(1173,362,47.5,47,'rkkkk;rkkkk;rrkkk;k;kkkkr');G(1233,362,47.5,47,'kkkkr;k;rrkkk;rkkkk;rkkkk');G(1292,362,47.5,47,'rrrkk;kkrkk;k;k;kkkkr');
G(1173,435,47.5,48,'rkkkk');G(1233,435,47.5,48,'rrkkk');G(1292,435,47.5,48,'rrrkk');G(1350.5,435,47.5,48,'rrrkk;kkrkk');G(1408,435,47.5,48,'rrrkk;kkrkk;k;k;kkkkr');
G(579.7,597.6,32,32,'k;k;k;ykkkk;krkkk');G(628,597.6,32,32,'k;kkkkr;kkkyk;kkykk;kykkk');
G(579.7,642.8,32,32,'kykkk;kykkk;kykkk;kykkk;krkkk');G(628,642.8,32,32,'krkkk;kykkk;kykkk;kykkk;kykkk');
G(579.7,687.8,32,32,'krkkk;kkykk;kkkyk;kkkky;k');G(628,687.8,32,32,'kykkk;rkkkk;k;k;k');
G(686.7,590.7,36.7,36.3,'k;k;kkkky;kkkyk;kkrkk');
G(747.7,596.8,55,55,'k;k;kkkky;kkkyk;kkrkk');
G(919.7,662,29.6,29,'kkkky;kkykk;rrkkk');
var pr=[['r','a'],['m','o'],['c','g'],['b','y']];
for(var q=0;q<4;q++){var yy=[396,414.5,433,452][q];G(222,yy,21,15,'k;k'+pr[q][0]+pr[q][1]+'k;k'+pr[q][0]+pr[q][0]+'k;k'+pr[q][0]+pr[q][0]+'k;k');G(247,yy,21,15,'k;k'+pr[q][0]+pr[q][1]+'k;k'+pr[q][0]+pr[q][0]+'k;k;k');}
for(var q=0;q<4;q++){var yy=[414,427,440,453][q];G(374.4,yy,19,10,'k;k'+pr[q][0]+pr[q][1]+'k;k'+pr[q][0]+'k'+pr[q][0]+'k;k;k');G(398,yy,19,10,'k;k'+pr[q][0]+pr[q][1]+'k;k'+pr[q][0]+pr[q][0]+'k;k;k');}
var rc=['w','m','c','b','a'];
for(var q=0;q<5;q++){var yy=390+q*17.5;G(447,yy,18,14,'k;k'+rc[q]+rc[q]+'k;k'+rc[q]+'k'+rc[q]+'k;k;k');G(473,yy,18,14,'k;k'+rc[q]+rc[q]+'k;k'+rc[q]+rc[q]+'k;k;k');}
</script>
</body></html>
